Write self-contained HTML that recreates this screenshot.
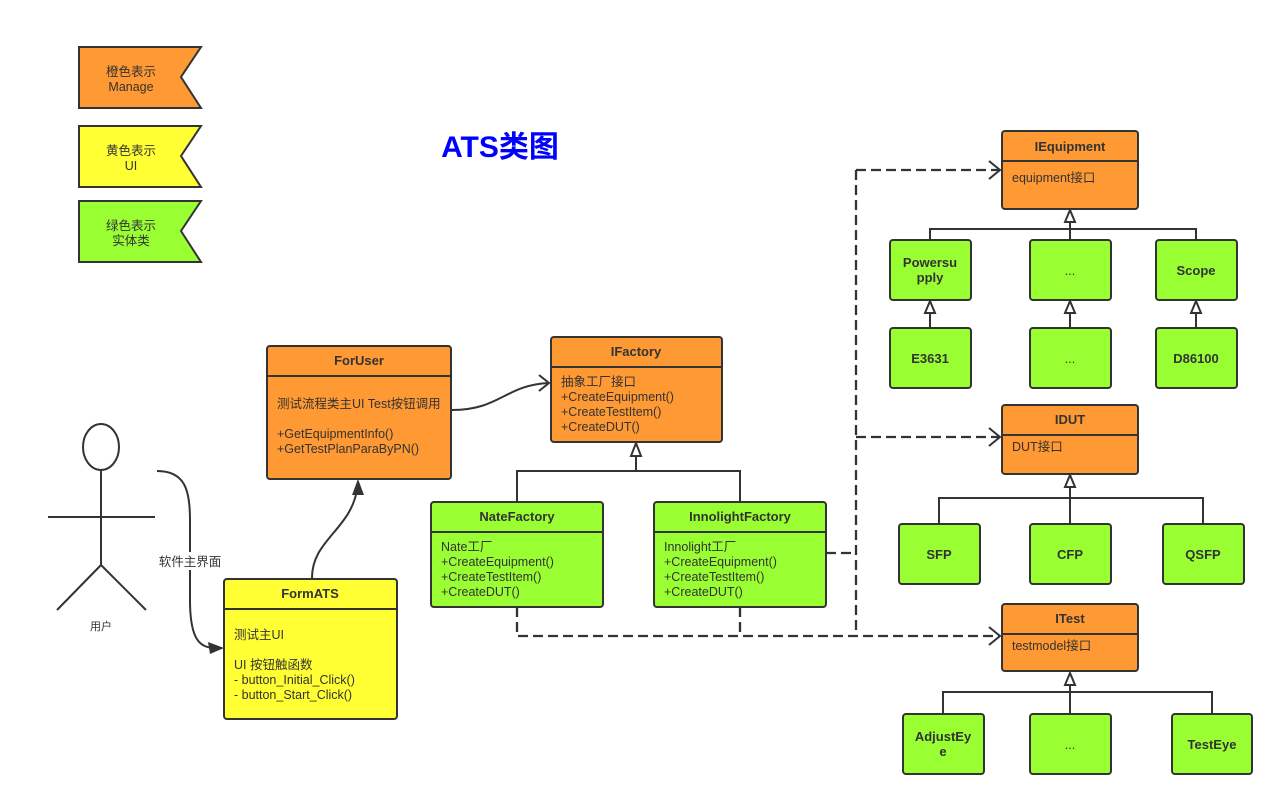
<!DOCTYPE html>
<html><head><meta charset="utf-8"><style>
html,body{margin:0;padding:0;background:#fff;}
svg{display:block;}
text{font-family:"Liberation Sans","Noto Sans CJK SC",sans-serif;fill:#333;font-size:12.5px;}
.h{font-weight:bold;font-size:13px;}
.n{font-weight:normal;}
.box{stroke:#333;stroke-width:2;}
.o{fill:#ff9933;}.g{fill:#99ff33;}.y{fill:#ffff33;}
.ln{stroke:#333;stroke-width:2;fill:none;}
.dl{stroke:#333;stroke-width:2.3;fill:none;stroke-dasharray:10,5;}
.tri{fill:#fff;stroke:#333;stroke-width:2;}
</style></head><body>
<svg width="1285" height="807" viewBox="0 0 1285 807" xmlns="http://www.w3.org/2000/svg">
<!-- legend -->
<polygon class="box o" points="79,47 201,47 181,77 201,108 79,108"/>
<text x="131" y="76" text-anchor="middle">橙色表示</text><text x="131" y="91" text-anchor="middle">Manage</text>
<polygon class="box y" points="79,126 201,126 181,156 201,187 79,187"/>
<text x="131" y="155" text-anchor="middle">黄色表示</text><text x="131" y="170" text-anchor="middle">UI</text>
<polygon class="box g" points="79,201 201,201 181,231 201,262 79,262"/>
<text x="131" y="230" text-anchor="middle">绿色表示</text><text x="131" y="245" text-anchor="middle">实体类</text>
<text x="500" y="157" text-anchor="middle" style="fill:#0000ff;font-size:30px;font-weight:bold">ATS类图</text>

<!-- actor -->
<ellipse cx="101" cy="447" rx="18" ry="23" class="ln"/>
<path class="ln" d="M101,470 V565 M48,517 H155 M101,565 L57,610 M101,565 L146,610"/>
<text x="101" y="630" text-anchor="middle" style="font-size:11px">用户</text>
<path class="ln" d="M157,471 C185,471 190,490 190,520 L190,600 C190,640 200,648 215,648"/>
<polygon points="224,648 208,642 210,654" fill="#333"/>
<rect x="158" y="552" width="64" height="18" fill="#fff"/>
<text x="190" y="566" text-anchor="middle">软件主界面</text>
<path class="ln" d="M312,578 C312,540 350,530 357,490"/>
<polygon points="358,479 352,495 364,495" fill="#333"/>
<path class="ln" d="M452,410 C500,410 505,385 549,383"/>
<path class="ln" d="M539,375 L549,383 L539,391"/>

<!-- dashed -->
<path class="dl" d="M826,553 H856 M856,170 V636 M856,170 H1000 M856,437 H1000 M517,607 V636 H1000 M740,607 V636"/>
<path class="ln" d="M989,161 L1000,170 L989,179 M989,428 L1000,437 L989,446 M989,627 L1000,636 L989,645"/>

<!-- inheritance lines -->
<path class="ln" d="M517,502 V471 H740 V502 M636,471 V455"/>
<polygon class="tri" points="636,443 631,456 641,456"/>
<path class="ln" d="M930,240 V229 H1196 V240 M1070,229 V222 M1070,240 V229"/>
<polygon class="tri" points="1070,210 1065,222 1075,222"/>
<path class="ln" d="M930,328 V313 M1070,328 V313 M1196,328 V313"/>
<polygon class="tri" points="930,301 925,313 935,313"/><polygon class="tri" points="1070,301 1065,313 1075,313"/><polygon class="tri" points="1196,301 1191,313 1201,313"/>
<path class="ln" d="M939,524 V498 H1203 V524 M1070,524 V487"/>
<polygon class="tri" points="1070,475 1065,487 1075,487"/>
<path class="ln" d="M943,714 V692 H1212 V714 M1070,714 V685"/>
<polygon class="tri" points="1070,673 1065,685 1075,685"/>

<!-- ForUser -->
<rect class="box o" x="267" y="346" width="184" height="133" rx="3"/>
<line class="ln" x1="267" y1="376" x2="451" y2="376"/>
<text class="h" x="359" y="365" text-anchor="middle">ForUser</text>
<text x="277" y="408">测试流程类主UI Test按钮调用</text>
<text x="277" y="438">+GetEquipmentInfo()</text><text x="277" y="453">+GetTestPlanParaByPN()</text>
<!-- IFactory -->
<rect class="box o" x="551" y="337" width="171" height="105" rx="3"/>
<line class="ln" x1="551" y1="367" x2="722" y2="367"/>
<text class="h" x="636" y="356" text-anchor="middle">IFactory</text>
<text x="561" y="386">抽象工厂接口</text><text x="561" y="401">+CreateEquipment()</text><text x="561" y="416">+CreateTestItem()</text><text x="561" y="431">+CreateDUT()</text>
<!-- Nate -->
<rect class="box g" x="431" y="502" width="172" height="105" rx="3"/>
<line class="ln" x1="431" y1="532" x2="603" y2="532"/>
<text class="h" x="517" y="521" text-anchor="middle">NateFactory</text>
<text x="441" y="551">Nate工厂</text><text x="441" y="566">+CreateEquipment()</text><text x="441" y="581">+CreateTestItem()</text><text x="441" y="596">+CreateDUT()</text>
<!-- Innolight -->
<rect class="box g" x="654" y="502" width="172" height="105" rx="3"/>
<line class="ln" x1="654" y1="532" x2="826" y2="532"/>
<text class="h" x="740" y="521" text-anchor="middle">InnolightFactory</text>
<text x="664" y="551">Innolight工厂</text><text x="664" y="566">+CreateEquipment()</text><text x="664" y="581">+CreateTestItem()</text><text x="664" y="596">+CreateDUT()</text>
<!-- FormATS -->
<rect class="box y" x="224" y="579" width="173" height="140" rx="3"/>
<line class="ln" x1="224" y1="609" x2="397" y2="609"/>
<text class="h" x="310" y="598" text-anchor="middle">FormATS</text>
<text x="234" y="639">测试主UI</text>
<text x="234" y="669">UI 按钮触函数</text><text x="234" y="684">- button_Initial_Click()</text><text x="234" y="699">- button_Start_Click()</text>
<!-- IEquipment -->
<rect class="box o" x="1002" y="131" width="136" height="78" rx="3"/>
<line class="ln" x1="1002" y1="161" x2="1138" y2="161"/>
<text class="h" x="1070" y="151" text-anchor="middle">IEquipment</text>
<text x="1012" y="182">equipment接口</text>
<!-- IDUT -->
<rect class="box o" x="1002" y="405" width="136" height="69" rx="3"/>
<line class="ln" x1="1002" y1="435" x2="1138" y2="435"/>
<text class="h" x="1070" y="424" text-anchor="middle">IDUT</text>
<text x="1012" y="451">DUT接口</text>
<!-- ITest -->
<rect class="box o" x="1002" y="604" width="136" height="67" rx="3"/>
<line class="ln" x1="1002" y1="634" x2="1138" y2="634"/>
<text class="h" x="1070" y="623" text-anchor="middle">ITest</text>
<text x="1012" y="650">testmodel接口</text>
<!-- small green -->
<rect class="box g" x="890" y="240" width="81" height="60" rx="3"/><text class="h" x="930" y="267" text-anchor="middle">Powersu</text><text class="h" x="930" y="282" text-anchor="middle">pply</text>
<rect class="box g" x="1030" y="240" width="81" height="60" rx="3"/><text x="1070" y="275" text-anchor="middle">...</text>
<rect class="box g" x="1156" y="240" width="81" height="60" rx="3"/><text class="h" x="1196" y="275" text-anchor="middle">Scope</text>
<rect class="box g" x="890" y="328" width="81" height="60" rx="3"/><text class="h" x="930" y="363" text-anchor="middle">E3631</text>
<rect class="box g" x="1030" y="328" width="81" height="60" rx="3"/><text x="1070" y="363" text-anchor="middle">...</text>
<rect class="box g" x="1156" y="328" width="81" height="60" rx="3"/><text class="h" x="1196" y="363" text-anchor="middle">D86100</text>
<rect class="box g" x="899" y="524" width="81" height="60" rx="3"/><text class="h" x="939" y="559" text-anchor="middle">SFP</text>
<rect class="box g" x="1030" y="524" width="81" height="60" rx="3"/><text class="h" x="1070" y="559" text-anchor="middle">CFP</text>
<rect class="box g" x="1163" y="524" width="81" height="60" rx="3"/><text class="h" x="1203" y="559" text-anchor="middle">QSFP</text>
<rect class="box g" x="903" y="714" width="81" height="60" rx="3"/><text class="h" x="943" y="741" text-anchor="middle">AdjustEy</text><text class="h" x="943" y="756" text-anchor="middle">e</text>
<rect class="box g" x="1030" y="714" width="81" height="60" rx="3"/><text x="1070" y="749" text-anchor="middle">...</text>
<rect class="box g" x="1172" y="714" width="80" height="60" rx="3"/><text class="h" x="1212" y="749" text-anchor="middle">TestEye</text>
</svg>
</body></html>
